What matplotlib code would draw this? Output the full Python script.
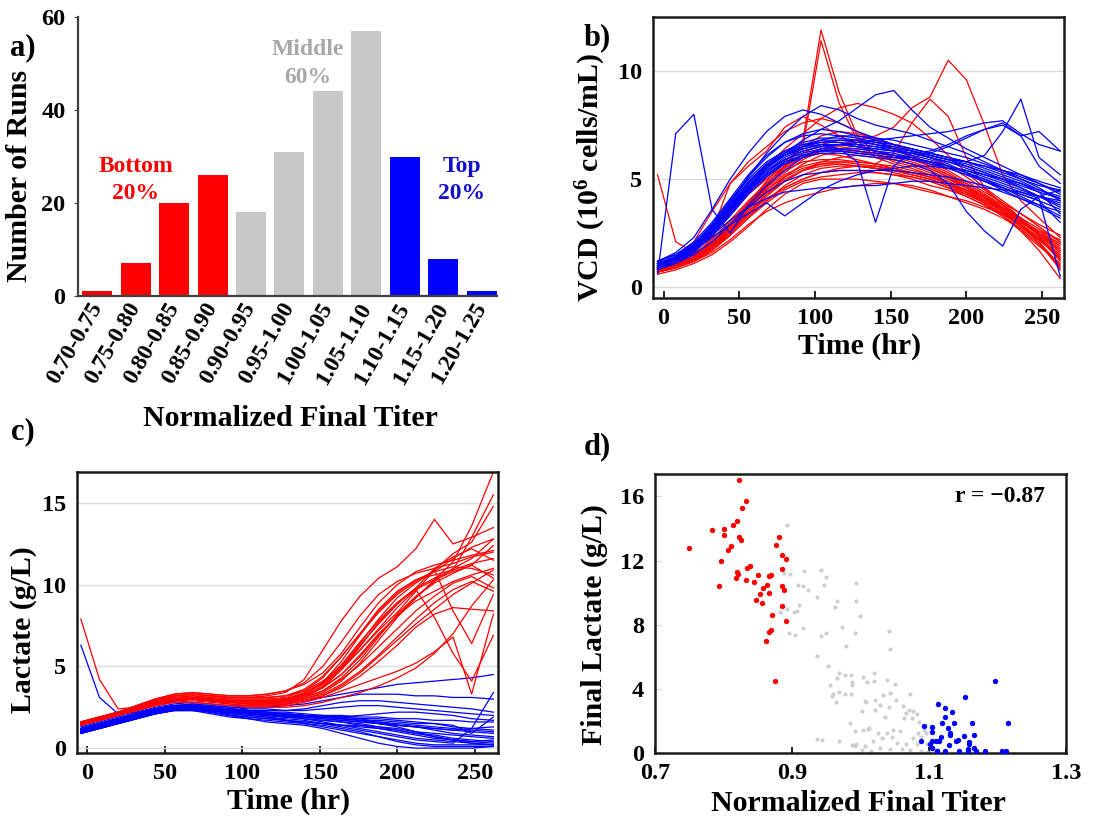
"""Four-panel titer summary: histogram, VCD and lactate profiles, final lactate vs titer."""
import matplotlib
matplotlib.use("Agg")
import matplotlib.pyplot as plt

RED, BLUE, GREY = "#ff0000", "#0000ff", "#c8c8c8"
W, H = 1096, 816

# --- a) histogram -------------------------------------------------------------
BINS = ["0.70-0.75", "0.75-0.80", "0.80-0.85", "0.85-0.90", "0.90-0.95", "0.95-1.00",
        "1.00-1.05", "1.05-1.10", "1.10-1.15", "1.15-1.20", "1.20-1.25"]
COUNTS = [1, 7, 20, 26, 18, 31, 44, 57, 30, 8, 1]
GROUP = ["bottom"] * 4 + ["middle"] * 4 + ["top"] * 3

# --- b) / c) time courses (hr) -----------------------------------------------
TIME = [-4, 8, 20, 32, 44, 56, 68, 80, 92, 104, 116, 128, 140, 152, 164, 176, 188,
        200, 212, 224, 236, 248, 262]

VCD_BOTTOM = [
    [0.8, 1.0, 1.3, 1.8, 2.6, 3.4, 4.1, 4.6, 5.0, 5.3, 5.4, 5.4, 5.3, 5.2, 5.1, 4.9, 4.6, 4.3, 3.9, 3.4, 2.8, 2.2, 1.4],
    [0.9, 1.1, 1.5, 2.2, 3.1, 4.0, 4.8, 5.5, 6.0, 6.3, 6.4, 6.3, 6.1, 5.9, 5.7, 5.4, 5.0, 4.6, 4.1, 3.6, 3.0, 2.4, 1.6],
    [0.7, 0.9, 1.2, 1.6, 2.2, 2.9, 3.5, 3.9, 4.2, 4.4, 4.6, 4.7, 4.8, 4.8, 4.7, 4.5, 4.2, 3.9, 3.6, 3.2, 2.7, 2.0, 1.0],
    [0.8, 1.0, 1.4, 2.0, 2.9, 3.8, 4.6, 5.5, 6.8, 11.9, 9.0, 7.0, 6.2, 5.8, 5.6, 5.3, 5.0, 4.6, 4.2, 3.7, 3.1, 2.5, 1.8],
    [0.9, 1.1, 1.5, 2.1, 3.0, 3.9, 4.8, 5.6, 6.5, 11.4, 8.5, 6.8, 6.0, 5.7, 5.5, 5.2, 4.8, 4.4, 3.9, 3.4, 2.9, 2.3, 1.5],
    [5.2, 2.1, 1.6, 2.0, 2.7, 3.6, 4.4, 5.0, 5.4, 5.6, 5.7, 5.6, 5.5, 5.3, 5.1, 4.9, 4.6, 4.2, 3.8, 3.3, 2.7, 2.0, 0.9],
    [0.8, 1.0, 1.3, 1.9, 2.8, 3.7, 4.6, 5.3, 5.9, 6.3, 6.6, 6.8, 7.0, 7.4, 8.3, 8.8, 10.5, 9.6, 7.5, 5.2, 4.0, 3.2, 2.3],
    [0.9, 1.3, 2.1, 3.5, 4.8, 5.8, 6.5, 7.2, 7.6, 7.8, 7.6, 7.2, 6.8, 6.4, 6.0, 5.6, 5.2, 4.8, 4.3, 3.8, 3.2, 2.5, 1.7],
    [0.7, 1.0, 1.4, 2.3, 3.5, 4.6, 5.6, 6.4, 7.1, 7.8, 8.3, 8.5, 8.3, 8.0, 7.6, 6.9, 6.1, 5.3, 4.6, 4.0, 3.4, 2.8, 2.1],
    [0.8, 1.0, 1.3, 1.7, 2.4, 3.2, 3.9, 4.5, 4.9, 5.1, 5.2, 5.3, 5.3, 5.2, 5.0, 4.7, 4.5, 4.2, 3.8, 3.3, 2.6, 1.7, 0.4],
    [0.9, 1.1, 1.4, 1.9, 2.7, 3.5, 4.3, 4.9, 5.4, 5.8, 6.0, 6.1, 6.0, 5.9, 5.7, 5.5, 5.1, 4.7, 4.2, 3.6, 3.0, 2.5, 2.0],
    [0.7, 0.9, 1.2, 1.7, 2.5, 3.4, 4.3, 5.1, 5.7, 6.1, 6.3, 6.3, 6.2, 6.1, 6.0, 5.8, 5.4, 4.9, 4.4, 3.9, 3.4, 2.9, 2.4],
    [0.8, 1.1, 1.6, 2.6, 4.8, 5.6, 6.3, 7.4, 7.9, 7.5, 7.0, 6.6, 6.3, 6.0, 5.8, 5.5, 5.1, 4.6, 4.1, 3.5, 2.9, 2.3, 1.2],
    [0.6, 0.8, 1.1, 1.5, 2.1, 2.8, 3.6, 4.3, 4.8, 5.0, 5.0, 5.0, 4.9, 4.8, 4.6, 4.4, 4.2, 4.0, 3.7, 3.4, 3.0, 2.6, 2.2],
    [0.8, 1.0, 1.4, 2.0, 2.9, 3.9, 4.9, 5.8, 6.5, 7.0, 7.2, 7.1, 6.9, 6.6, 6.3, 6.0, 5.6, 5.1, 4.5, 3.9, 3.2, 2.4, 1.3],
    [0.9, 1.2, 1.6, 2.4, 3.4, 4.3, 5.0, 5.6, 6.0, 6.2, 6.1, 5.9, 5.7, 5.5, 5.3, 5.1, 4.8, 4.5, 4.1, 3.7, 3.2, 2.7, 2.1],
    [0.7, 0.9, 1.2, 1.8, 2.6, 3.6, 4.5, 5.2, 5.6, 5.8, 5.8, 5.7, 5.6, 5.4, 5.2, 5.0, 4.7, 4.3, 3.9, 3.4, 2.8, 2.1, 1.0],
    [0.8, 1.0, 1.3, 1.9, 2.8, 3.8, 4.7, 5.4, 5.8, 5.9, 5.9, 5.8, 5.7, 6.2, 7.6, 8.7, 7.9, 6.0, 4.6, 3.8, 3.1, 2.4, 1.7],
    [0.8, 1.0, 1.4, 2.0, 2.8, 3.7, 4.5, 5.1, 5.5, 5.7, 5.7, 5.6, 5.5, 5.4, 5.3, 5.1, 4.8, 4.4, 3.9, 3.3, 2.6, 1.9, 1.1],
    [0.9, 1.1, 1.4, 1.9, 2.6, 3.4, 4.2, 4.9, 5.4, 5.7, 5.8, 5.8, 5.7, 5.6, 5.4, 5.2, 4.9, 4.5, 4.0, 3.5, 2.9, 2.2, 1.5],
    [0.7, 0.9, 1.3, 1.9, 2.8, 3.8, 4.8, 5.6, 6.2, 6.6, 6.8, 6.8, 6.6, 6.4, 6.1, 5.7, 5.3, 4.8, 4.3, 3.7, 3.1, 2.5, 1.9],
    [0.8, 1.0, 1.3, 1.8, 2.5, 3.3, 4.0, 4.6, 5.0, 5.3, 5.5, 5.6, 5.6, 5.5, 5.3, 5.1, 4.8, 4.4, 4.0, 3.5, 2.9, 2.2, 1.3],
    [0.9, 1.2, 1.7, 2.5, 3.4, 4.3, 5.1, 5.7, 6.1, 6.4, 6.5, 6.4, 6.3, 6.1, 5.9, 5.6, 5.2, 4.7, 4.2, 3.6, 2.9, 2.1, 0.8],
    [0.7, 0.9, 1.2, 1.7, 2.4, 3.2, 4.0, 4.7, 5.2, 5.5, 5.6, 5.6, 5.5, 5.4, 5.2, 5.0, 4.7, 4.4, 4.0, 3.6, 3.1, 2.6, 2.0],
]

VCD_TOP = [
    [1.0, 1.3, 1.8, 2.6, 3.6, 4.6, 5.4, 5.9, 6.3, 6.5, 6.6, 6.5, 6.4, 6.3, 6.2, 6.0, 5.8, 5.5, 5.2, 4.9, 4.6, 4.2, 3.7],
    [0.6, 7.1, 8.0, 3.6, 2.5, 3.8, 4.7, 5.4, 6.0, 6.4, 6.6, 6.5, 6.3, 6.1, 5.9, 5.7, 5.5, 5.2, 4.9, 4.6, 4.3, 4.0, 3.6],
    [1.1, 1.4, 1.8, 2.4, 3.1, 3.7, 4.1, 4.4, 4.5, 4.6, 4.6, 4.7, 4.7, 4.8, 4.9, 4.9, 4.8, 4.7, 4.6, 4.5, 4.4, 4.2, 4.0],
    [1.0, 1.3, 1.8, 2.7, 3.9, 5.1, 6.2, 7.1, 7.9, 8.4, 8.2, 7.8, 7.5, 7.3, 7.1, 6.8, 6.5, 6.2, 5.8, 5.4, 5.0, 4.6, 4.0],
    [1.2, 1.5, 2.0, 2.8, 3.8, 4.8, 5.6, 6.2, 6.5, 6.6, 6.4, 5.8, 3.0, 5.6, 6.2, 6.0, 5.7, 5.3, 4.9, 4.5, 4.1, 3.7, 3.2],
    [0.9, 1.2, 1.7, 2.5, 3.5, 4.5, 5.3, 5.9, 6.3, 6.5, 6.6, 6.7, 6.8, 6.9, 7.0, 7.1, 7.2, 7.4, 7.6, 7.7, 7.1, 6.6, 6.3],
    [1.0, 1.3, 1.9, 2.8, 3.9, 4.9, 5.7, 6.2, 6.6, 6.8, 6.8, 6.7, 6.6, 6.5, 6.3, 6.1, 5.9, 5.8, 6.1, 7.2, 8.7, 6.0, 5.2],
    [1.1, 1.4, 1.9, 2.6, 3.5, 4.4, 5.2, 5.7, 6.0, 6.2, 6.2, 6.1, 6.0, 5.9, 5.7, 5.4, 4.8, 3.5, 2.6, 1.9, 3.6, 4.2, 4.5],
    [1.2, 1.6, 2.3, 3.6, 5.0, 6.2, 7.2, 7.9, 8.2, 8.0, 7.6, 7.2, 6.9, 6.6, 6.4, 6.2, 6.0, 5.8, 5.5, 5.2, 4.9, 4.5, 4.1],
    [1.0, 1.3, 1.7, 2.3, 2.9, 3.4, 3.9, 3.3, 3.9, 4.5, 4.9, 5.2, 5.4, 5.5, 5.6, 5.6, 5.5, 5.4, 5.2, 5.0, 4.8, 4.5, 4.2],
    [0.9, 1.2, 1.7, 2.5, 3.5, 4.5, 5.3, 5.9, 6.2, 6.4, 6.4, 6.3, 6.2, 6.1, 6.0, 5.8, 5.6, 5.3, 5.0, 4.7, 4.4, 4.1, 0.5],
    [1.1, 1.4, 1.9, 2.7, 3.7, 4.7, 5.5, 6.1, 6.5, 6.8, 7.0, 7.0, 6.9, 6.8, 6.6, 6.4, 6.2, 6.0, 5.7, 5.4, 5.1, 4.8, 4.4],
    [1.0, 1.3, 1.8, 2.6, 3.6, 4.6, 5.5, 6.2, 6.8, 7.3, 7.7, 8.3, 8.9, 9.1, 8.2, 7.4, 6.9, 6.4, 6.0, 5.6, 5.2, 4.8, 4.3],
    [0.8, 1.1, 1.6, 2.4, 3.4, 4.4, 5.2, 5.8, 6.1, 6.3, 6.3, 6.2, 6.1, 6.0, 6.0, 6.2, 6.5, 6.9, 7.3, 7.6, 7.0, 7.2, 6.3],
    [1.2, 1.5, 2.0, 2.9, 4.0, 5.0, 5.8, 6.3, 6.6, 6.7, 6.7, 6.6, 6.5, 6.3, 6.1, 5.9, 5.6, 5.3, 5.0, 4.6, 4.2, 3.8, 3.3],
    [0.9, 1.1, 1.5, 2.1, 2.9, 3.7, 4.4, 4.9, 5.2, 5.3, 5.4, 5.4, 5.4, 5.4, 5.3, 5.2, 5.1, 4.9, 4.7, 4.4, 4.1, 3.8, 3.5],
    [1.0, 1.4, 2.0, 2.9, 4.0, 5.1, 6.0, 6.7, 7.1, 7.3, 7.2, 7.0, 6.8, 6.6, 6.4, 6.2, 6.0, 5.8, 5.6, 5.3, 5.0, 4.7, 4.5],
    [1.1, 1.4, 1.9, 2.7, 3.7, 4.6, 5.4, 6.0, 6.4, 6.6, 6.6, 6.5, 6.4, 6.3, 6.2, 6.3, 6.6, 7.0, 7.3, 7.5, 7.0, 5.6, 4.8],
    [1.0, 1.3, 1.8, 2.6, 3.7, 4.8, 5.7, 6.3, 6.7, 6.9, 6.9, 6.8, 6.6, 6.4, 6.2, 6.0, 5.8, 5.6, 5.3, 5.0, 4.7, 4.4, 4.1],
    [1.1, 1.4, 1.9, 2.8, 3.8, 4.8, 5.6, 6.1, 6.4, 6.6, 6.6, 6.6, 6.5, 6.4, 6.3, 6.1, 5.9, 5.6, 5.3, 5.0, 4.6, 4.2, 3.8],
    [0.9, 1.2, 1.6, 2.4, 3.3, 4.3, 5.1, 5.7, 6.1, 6.3, 6.3, 6.2, 6.1, 6.0, 5.9, 5.8, 5.6, 5.4, 5.1, 4.8, 4.5, 4.2, 3.9],
    [1.2, 1.5, 2.1, 3.0, 4.1, 5.2, 6.1, 6.7, 7.0, 7.1, 7.0, 6.9, 6.7, 6.5, 6.3, 6.1, 5.9, 5.7, 5.4, 5.1, 4.8, 4.4, 3.4],
    [1.0, 1.3, 1.8, 2.6, 3.6, 4.6, 5.5, 6.1, 6.5, 6.7, 6.8, 6.8, 6.7, 6.6, 6.4, 6.2, 6.0, 5.8, 5.6, 5.4, 5.2, 4.9, 4.6],
    [1.1, 1.4, 1.9, 2.7, 3.6, 4.5, 5.2, 5.8, 6.1, 6.3, 6.4, 6.4, 6.3, 6.2, 6.0, 5.8, 5.5, 5.2, 4.9, 4.6, 4.3, 4.0, 3.0],
]

LAC_TOP = [
    [1.1, 1.4, 1.7, 2.0, 2.3, 2.5, 2.5, 2.4, 2.3, 2.2, 2.1, 2.0, 1.9, 1.8, 1.7, 1.6, 1.5, 1.4, 1.3, 1.2, 1.1, 1.0, 0.9],
    [6.3, 3.1, 2.1, 2.2, 2.4, 2.6, 2.6, 2.5, 2.4, 2.3, 2.2, 2.1, 2.0, 1.9, 1.8, 1.7, 1.6, 1.5, 1.4, 1.3, 1.2, 1.1, 1.0],
    [1.3, 1.6, 1.9, 2.2, 2.5, 2.7, 2.8, 2.7, 2.6, 2.6, 2.6, 2.7, 2.9, 3.1, 3.3, 3.5, 3.7, 3.9, 4.0, 4.1, 4.2, 4.3, 4.5],
    [0.9, 1.2, 1.5, 1.8, 2.1, 2.3, 2.3, 2.2, 2.0, 1.8, 1.6, 1.5, 1.4, 1.2, 0.9, 0.6, 0.3, 0.1, 0.0, 0.0, 0.0, 0.0, 0.1],
    [1.0, 1.3, 1.6, 1.9, 2.2, 2.4, 2.4, 2.3, 2.2, 2.1, 2.0, 2.0, 1.9, 1.9, 1.8, 1.7, 1.5, 1.3, 1.0, 0.7, 0.5, 0.3, 0.2],
    [1.2, 1.5, 1.8, 2.1, 2.4, 2.6, 2.7, 2.6, 2.5, 2.5, 2.5, 2.6, 2.7, 2.9, 3.1, 3.3, 3.3, 3.3, 3.2, 3.2, 3.1, 3.1, 3.0],
    [1.0, 1.3, 1.6, 1.9, 2.2, 2.4, 2.4, 2.3, 2.1, 2.0, 1.9, 1.8, 1.7, 1.5, 1.3, 1.1, 0.9, 0.7, 0.5, 0.4, 0.3, 1.2, 3.4],
    [1.1, 1.4, 1.7, 2.0, 2.3, 2.5, 2.5, 2.4, 2.3, 2.2, 2.1, 2.1, 2.0, 2.0, 2.0, 1.9, 1.9, 1.8, 1.8, 1.7, 1.7, 1.6, 1.6],
    [0.9, 1.2, 1.5, 1.8, 2.1, 2.3, 2.3, 2.2, 2.0, 1.9, 1.8, 1.7, 1.6, 1.5, 1.4, 1.3, 1.2, 1.1, 0.9, 0.8, 0.6, 0.5, 0.4],
    [1.2, 1.5, 1.8, 2.1, 2.4, 2.6, 2.7, 2.6, 2.5, 2.4, 2.4, 2.3, 2.3, 2.4, 2.5, 2.6, 2.6, 2.5, 2.4, 2.3, 2.2, 2.1, 2.0],
    [1.0, 1.3, 1.6, 1.9, 2.2, 2.4, 2.5, 2.4, 2.3, 2.2, 2.1, 2.0, 1.8, 1.6, 1.4, 1.2, 1.0, 0.8, 0.6, 0.5, 0.4, 0.3, 0.2],
    [1.1, 1.4, 1.7, 2.0, 2.3, 2.5, 2.6, 2.5, 2.4, 2.3, 2.2, 2.2, 2.1, 2.0, 1.9, 1.8, 1.6, 1.4, 1.3, 1.2, 1.1, 1.2, 1.3],
    [1.0, 1.3, 1.6, 1.9, 2.2, 2.4, 2.4, 2.3, 2.1, 2.0, 1.9, 1.7, 1.6, 1.5, 1.4, 1.4, 1.3, 1.2, 1.0, 0.9, 0.8, 0.7, 0.6],
    [1.2, 1.5, 1.8, 2.1, 2.4, 2.6, 2.6, 2.5, 2.4, 2.3, 2.3, 2.3, 2.4, 2.6, 2.8, 2.9, 2.9, 2.8, 2.7, 2.6, 2.5, 2.4, 2.2],
    [0.9, 1.2, 1.5, 1.8, 2.1, 2.3, 2.3, 2.1, 1.9, 1.8, 1.7, 1.6, 1.5, 1.4, 1.2, 1.0, 0.7, 0.4, 0.2, 0.1, 0.1, 0.1, 0.1],
    [1.1, 1.4, 1.7, 2.0, 2.3, 2.5, 2.5, 2.4, 2.3, 2.2, 2.1, 2.1, 2.0, 1.9, 1.8, 1.7, 1.7, 1.6, 1.5, 1.5, 1.4, 0.9, 1.9],
    [1.0, 1.3, 1.6, 1.9, 2.2, 2.4, 2.4, 2.3, 2.2, 2.1, 2.0, 1.9, 1.8, 1.7, 1.6, 1.5, 1.3, 1.1, 0.9, 0.7, 0.5, 0.4, 0.5],
    [1.2, 1.5, 1.8, 2.1, 2.4, 2.6, 2.6, 2.5, 2.4, 2.3, 2.2, 2.1, 2.0, 1.9, 1.9, 1.8, 1.8, 1.7, 1.6, 1.5, 1.3, 1.2, 1.1],
    [1.1, 1.4, 1.7, 2.0, 2.3, 2.5, 2.5, 2.4, 2.2, 2.1, 2.0, 1.9, 1.8, 1.7, 1.6, 1.4, 1.2, 1.0, 0.8, 0.6, 0.5, 0.4, 0.3],
    [0.9, 1.2, 1.5, 1.8, 2.1, 2.3, 2.4, 2.3, 2.2, 2.1, 2.0, 1.9, 1.9, 1.8, 1.7, 1.6, 1.5, 1.4, 1.3, 1.1, 0.9, 0.8, 0.7],
    [1.1, 1.4, 1.7, 2.0, 2.3, 2.5, 2.6, 2.5, 2.3, 2.2, 2.1, 2.0, 2.0, 1.9, 1.9, 2.0, 2.1, 2.2, 2.2, 2.1, 2.0, 1.8, 1.7],
    [1.0, 1.3, 1.6, 1.9, 2.2, 2.4, 2.4, 2.2, 2.0, 1.9, 1.8, 1.7, 1.5, 1.3, 1.1, 0.9, 0.7, 0.5, 0.3, 0.2, 0.2, 0.2, 0.2],
]

LAC_BOTTOM = [
    [1.5, 1.8, 2.1, 2.4, 2.7, 2.9, 3.0, 2.9, 2.8, 2.8, 2.8, 2.8, 3.1, 3.7, 4.8, 6.2, 7.7, 8.9, 9.8, 10.4, 10.9, 11.3, 11.6],
    [7.9, 4.2, 2.4, 2.5, 2.8, 3.0, 3.1, 3.0, 2.9, 2.9, 2.9, 3.0, 3.3, 4.0, 5.3, 6.9, 8.4, 9.5, 10.3, 10.8, 11.1, 11.0, 10.6],
    [1.6, 1.9, 2.2, 2.6, 2.9, 3.2, 3.3, 3.2, 3.1, 3.1, 3.2, 3.4, 4.2, 6.0, 7.8, 9.3, 10.4, 11.1, 12.2, 14.0, 12.5, 12.9, 13.5],
    [1.4, 1.7, 2.0, 2.4, 2.7, 2.9, 3.0, 2.9, 2.8, 2.7, 2.7, 2.8, 3.0, 3.4, 4.1, 5.2, 6.6, 8.0, 9.2, 10.3, 11.4, 13.6, 16.9],
    [1.5, 1.8, 2.1, 2.5, 2.8, 3.0, 3.0, 2.9, 2.8, 2.8, 2.8, 2.9, 3.2, 3.8, 4.8, 6.0, 7.3, 8.6, 9.7, 8.0, 5.8, 4.1, 6.9],
    [1.4, 1.7, 2.0, 2.3, 2.6, 2.8, 2.9, 2.8, 2.7, 2.6, 2.6, 2.6, 2.8, 3.1, 3.5, 3.9, 4.3, 4.7, 5.2, 5.9, 6.8, 3.3, 8.2],
    [1.6, 1.9, 2.2, 2.5, 2.8, 3.1, 3.2, 3.1, 3.0, 3.0, 3.0, 3.1, 3.5, 4.3, 5.6, 7.0, 8.3, 9.4, 10.2, 10.8, 11.6, 12.3, 12.8],
    [1.5, 1.8, 2.1, 2.4, 2.8, 3.0, 3.1, 3.0, 2.9, 2.8, 2.8, 2.9, 3.1, 3.5, 4.2, 5.1, 6.2, 7.3, 8.4, 9.3, 10.1, 10.5, 9.8],
    [1.5, 1.8, 2.2, 2.6, 3.0, 3.3, 3.4, 3.3, 3.2, 3.2, 3.3, 3.5, 3.9, 4.6, 5.8, 7.4, 8.9, 10.0, 10.8, 11.2, 11.5, 11.8, 12.1],
    [1.4, 1.7, 2.0, 2.3, 2.6, 2.8, 2.8, 2.7, 2.6, 2.5, 2.5, 2.5, 2.6, 2.8, 3.1, 3.4, 3.8, 4.3, 4.9, 5.8, 7.0, 8.7, 10.3],
    [1.6, 1.9, 2.2, 2.5, 2.9, 3.1, 3.2, 3.1, 3.0, 3.0, 3.0, 3.0, 3.2, 3.7, 4.5, 5.7, 7.0, 8.1, 9.0, 9.6, 10.2, 10.6, 11.0],
    [1.5, 1.8, 2.1, 2.4, 2.7, 2.9, 3.0, 2.9, 2.8, 2.8, 2.9, 3.0, 3.4, 4.0, 4.9, 6.0, 7.2, 8.3, 9.6, 10.9, 8.4, 6.4, 9.4],
    [1.5, 1.8, 2.1, 2.5, 2.9, 3.2, 3.3, 3.2, 3.1, 3.1, 3.1, 3.2, 3.5, 4.1, 5.0, 6.4, 7.9, 9.2, 10.1, 10.9, 11.9, 12.6, 14.8],
    [1.4, 1.7, 2.0, 2.4, 2.7, 2.9, 3.0, 2.9, 2.7, 2.6, 2.6, 2.7, 2.9, 3.2, 3.7, 4.4, 5.3, 6.3, 7.4, 8.2, 8.6, 8.5, 8.4],
    [1.5, 1.8, 2.1, 2.5, 2.8, 3.0, 3.1, 3.0, 2.9, 2.9, 2.9, 3.0, 3.3, 3.9, 4.9, 6.3, 7.6, 8.8, 9.8, 11.0, 11.7, 12.2, 11.5],
    [1.6, 1.9, 2.2, 2.6, 3.0, 3.2, 3.3, 3.2, 3.1, 3.1, 3.1, 3.2, 3.6, 4.4, 5.6, 7.0, 8.5, 9.6, 10.3, 10.6, 10.9, 12.9, 15.5],
    [1.5, 1.8, 2.1, 2.5, 2.8, 3.0, 3.1, 3.0, 2.9, 2.9, 2.9, 3.0, 3.3, 4.0, 5.1, 6.5, 7.8, 8.9, 9.7, 10.3, 10.8, 11.2, 10.4],
    [1.4, 1.7, 2.0, 2.4, 2.7, 2.9, 3.0, 2.9, 2.8, 2.8, 2.8, 2.9, 3.1, 3.5, 4.3, 5.4, 6.8, 8.2, 9.3, 10.1, 10.7, 11.2, 12.4],
    [1.6, 1.9, 2.2, 2.6, 3.0, 3.3, 3.4, 3.3, 3.2, 3.2, 3.3, 3.5, 4.0, 5.0, 6.5, 8.1, 9.4, 10.2, 10.7, 11.0, 11.3, 11.7, 12.0],
    [1.5, 1.8, 2.1, 2.4, 2.7, 2.9, 3.0, 2.9, 2.8, 2.7, 2.7, 2.8, 3.0, 3.3, 3.9, 4.7, 5.7, 6.8, 7.9, 8.9, 9.7, 10.2, 9.6],
    [1.5, 1.8, 2.1, 2.5, 2.8, 3.0, 3.1, 3.0, 2.9, 2.9, 2.9, 3.0, 3.2, 3.7, 4.5, 5.6, 6.9, 8.1, 9.2, 10.2, 11.0, 11.6, 12.8],
    [1.4, 1.7, 2.0, 2.3, 2.6, 2.9, 3.0, 2.9, 2.8, 2.7, 2.7, 2.7, 2.9, 3.2, 3.8, 4.6, 5.6, 6.6, 7.6, 8.5, 9.4, 10.1, 10.9],
]

# --- d) final lactate vs normalized titer ------------------------------------
BOTTOM_TITER = [0.823, 0.833, 0.827, 0.820, 0.814, 0.783, 0.801, 0.801, 0.822, 0.825, 0.881, 0.876,
                0.811, 0.806, 0.750, 0.796, 0.886, 0.891, 0.885, 0.838, 0.834, 0.819, 0.821, 0.818,
                0.850, 0.866, 0.869, 0.833, 0.845, 0.793, 0.864, 0.885, 0.888, 0.858, 0.854, 0.866,
                0.848, 0.856, 0.885, 0.891, 0.871, 0.869, 0.867, 0.862, 0.875]
BOTTOM_LACTATE = [17.0, 15.7, 15.27, 14.44, 14.25, 13.9, 13.94, 13.6, 13.46, 13.31, 13.5, 12.98,
                  12.9, 12.69, 12.77, 11.96, 12.33, 12.1, 11.46, 11.65, 11.52, 11.31, 11.17, 10.92,
                  11.1, 11.06, 11.12, 10.79, 10.69, 10.42, 10.46, 10.42, 10.17, 10.29, 9.92, 10.0,
                  9.56, 9.35, 9.19, 8.21, 8.63, 7.69, 7.56, 6.98, 4.52]

MIDDLE_TITER = [0.897, 0.917, 0.942, 0.950, 0.946, 0.909, 0.916, 0.924, 0.937, 0.993, 0.993, 0.965,
                0.963, 0.910, 0.907, 0.903, 0.892, 0.999, 0.916, 0.905, 0.943, 0.950, 0.973, 0.992,
                0.979, 0.937, 0.952, 0.969, 0.978, 0.986, 0.965, 1.003, 0.988, 1.009, 0.955, 0.988,
                0.969, 0.960, 0.977, 0.986, 0.959, 0.964, 1.008, 1.002, 1.003, 0.944, 0.969, 0.988,
                0.993, 1.011, 0.892, 0.888, 0.882, 0.896, 1.042, 1.043, 1.020, 1.020, 1.038, 1.050,
                1.033, 1.043, 1.072, 1.007, 1.021, 1.052, 1.062, 1.028, 1.041, 1.021, 1.071, 1.077,
                1.067, 1.082, 1.064, 1.036, 1.075, 1.086, 1.013, 1.048, 1.092, 1.026, 1.038, 1.058,
                1.084, 1.096, 1.031, 1.046, 1.077, 1.089, 1.018, 1.053, 1.066, 1.082, 1.097, 1.007,
                1.028, 1.043, 1.060, 1.072, 1.089, 1.015, 1.002, 1.097, 0.936, 0.992, 0.992, 0.985]
MIDDLE_LACTATE = [11.17, 11.38, 11.4, 10.96, 10.5, 10.48, 10.44, 10.19, 9.73, 10.6, 9.5, 9.46,
                  9.12, 9.21, 8.88, 8.77, 8.98, 8.56, 7.79, 7.36, 7.27, 7.5, 7.88, 7.5,
                  6.67, 6.08, 5.42, 5.02, 4.88, 4.88, 4.69, 4.71, 4.44, 4.4, 4.25, 4.25,
                  3.83, 3.71, 3.67, 3.71, 3.56, 3.15, 3.21, 2.63, 1.42, 0.83, 0.75, 0.48,
                  0.54, 1.48, 14.19, 11.2, 8.77, 7.48, 7.58, 6.48, 4.96, 4.5, 4.54, 4.33,
                  3.6, 3.77, 3.71, 3.25, 3.29, 3.29, 2.94, 3.0, 2.88, 2.69, 2.69, 2.63,
                  2.52, 2.42, 2.21, 2.25, 2.17, 1.96, 1.54, 1.42, 1.42, 1.27, 1.27, 1.38,
                  1.27, 1.27, 0.96, 1.0, 0.96, 1.0, 0.75, 0.65, 0.58, 0.54, 0.58, 0.44,
                  0.33, 0.23, 0.23, 0.17, 0.12, 0.12, 0.2, 0.05, 0.85, 0.44, 1.38, 1.9]

TOP_TITER = [1.196, 1.152, 1.216, 1.113, 1.124, 1.134, 1.123, 1.119, 1.137, 1.163, 1.105, 1.128,
             1.130, 1.131, 1.105, 1.165, 1.151, 1.118, 1.142, 1.140, 1.110, 1.115, 1.105, 1.159,
             1.158, 1.129, 1.102, 1.165, 1.157, 1.169, 1.111, 1.123, 1.144, 1.157, 1.182, 1.206,
             1.212, 1.112, 1.104, 1.092, 1.088]
TOP_LACTATE = [4.5, 3.48, 1.9, 3.04, 2.81, 2.58, 2.25, 1.9, 1.9, 1.9, 1.65, 1.58,
               1.27, 1.15, 1.31, 1.1, 1.04, 1.02, 0.81, 0.73, 0.75, 0.75, 0.75, 0.71,
               0.58, 0.52, 0.58, 0.33, 0.23, 0.12, 0.12, 0.1, 0.1, 0.1, 0.1, 0.1,
               0.1, 0.1, 0.33, 1.69, 0.75]
R_TEXT = "r = \u22120.87"

TICK = 17.5
LABEL = 21.5


def place(fig, left, top, right, bottom):
    """Axes from pixel box (origin top-left)."""
    return fig.add_axes([left / W, 1 - bottom / H, (right - left) / W, (bottom - top) / H])


def frame(ax, color="#1a1a1a", lw=1.8):
    for s in ax.spines.values():
        s.set_color(color)
        s.set_linewidth(lw)


def panel_hist(fig):
    ax = place(fig, 78, 17, 497, 296)
    colors = {"bottom": RED, "middle": GREY, "top": BLUE}
    x = list(range(len(BINS)))
    ax.bar(x, COUNTS, width=0.78, color=[colors[g] for g in GROUP])
    ax.set_xlim(-0.5, 10.4)
    ax.set_ylim(0, 60)
    ax.set_yticks([0, 20, 40, 60])
    ax.set_xticks(x)
    ax.set_xticklabels(BINS, rotation=60, ha="right", va="center", rotation_mode="anchor",
                       fontsize=17)
    ax.tick_params(axis="x", length=0, pad=6)
    ax.tick_params(axis="y", length=3, pad=6, labelsize=TICK, color="#404040")
    for s in ("top", "right"):
        ax.spines[s].set_visible(False)
    for s in ("left", "bottom"):
        ax.spines[s].set_color("#404040")
        ax.spines[s].set_linewidth(1.6)
    ax.set_ylabel("Number of Runs", fontsize=LABEL)
    ax.yaxis.set_label_coords(-0.107, 0.43)
    ax.set_xlabel("Normalized Final Titer", fontsize=LABEL)
    ax.xaxis.set_label_coords(0.506, -0.39)
    kw = dict(ha="center", va="center", fontsize=17, linespacing=1.4)
    ax.text(1.0, 25, "Bottom\n20%", color=RED, **kw)
    ax.text(5.48, 50, "Middle\n60%", color="#a8a8a8", **kw)
    ax.text(9.48, 25, "Top\n20%", color="#1010cc", **kw)


def lines_axes(ax):
    frame(ax)
    ax.grid(axis="y", color="#dcdcdc", lw=1.0)
    ax.set_axisbelow(True)
    ax.tick_params(axis="x", direction="in", length=5, width=1.2, pad=7, labelsize=TICK)
    ax.tick_params(axis="y", length=0, pad=8, labelsize=TICK)
    ax.set_xticks([0, 50, 100, 150, 200, 250])
    ax.set_xlabel("Time (hr)", fontsize=LABEL)
    ax.xaxis.set_label_coords(0.502, -0.122)


def panel_vcd(fig):
    ax = place(fig, 653, 17, 1064, 298)
    for curve in VCD_BOTTOM:
        ax.plot(TIME, curve, color=RED, lw=0.9)
    for curve in VCD_TOP:
        ax.plot(TIME, curve, color=BLUE, lw=0.9)
    ax.set_xlim(-7, 264.5)
    ax.set_ylim(-0.5, 12.5)
    ax.set_yticks([0, 5, 10])
    lines_axes(ax)
    ax.set_ylabel("VCD (10$^{6}$ cells/mL)", fontsize=LABEL)
    ax.yaxis.set_label_coords(-0.109, 0.43)


def panel_lactate(fig):
    ax = place(fig, 77, 472, 498, 753)
    for curve in LAC_TOP:
        ax.plot(TIME, curve, color=BLUE, lw=0.9)
    for curve in LAC_BOTTOM:
        ax.plot(TIME, curve, color=RED, lw=0.9)
    ax.set_xlim(-6.5, 265)
    ax.set_ylim(-0.3, 16.9)
    ax.set_yticks([0, 5, 10, 15])
    lines_axes(ax)
    ax.set_ylabel("Lactate (g/L)", fontsize=LABEL)
    ax.yaxis.set_label_coords(-0.095, 0.44)


def panel_scatter(fig):
    ax = place(fig, 655, 474, 1066, 753)
    ax.scatter(MIDDLE_TITER, MIDDLE_LACTATE, s=9, color="#cfcfcf", lw=0, zorder=2)
    ax.scatter(BOTTOM_TITER, BOTTOM_LACTATE, s=15, color=RED, lw=0, zorder=3)
    ax.scatter(TOP_TITER, TOP_LACTATE, s=15, color=BLUE, lw=0, zorder=3)
    ax.set_xlim(0.7, 1.3)
    ax.set_ylim(0, 17.4)
    ax.set_xticks([0.7, 0.9, 1.1, 1.3])
    ax.set_yticks([0, 4, 8, 12, 16])
    frame(ax)
    ax.tick_params(axis="x", direction="in", length=4, width=1.2, pad=7, labelsize=TICK)
    ax.tick_params(axis="y", direction="in", length=4, color="#d0d0d0", pad=8, labelsize=TICK)
    ax.text(0.95, 0.92, R_TEXT, transform=ax.transAxes, ha="right", va="center", fontsize=17)
    ax.set_ylabel("Final Lactate (g/L)", fontsize=LABEL)
    ax.yaxis.set_label_coords(-0.114, 0.46)
    ax.set_xlabel("Normalized Final Titer", fontsize=LABEL)
    ax.xaxis.set_label_coords(0.494, -0.133)


def main():
    plt.rcParams["font.family"] = ["Liberation Serif", "DejaVu Serif"]
    plt.rcParams["font.weight"] = "bold"
    plt.rcParams["axes.labelweight"] = "bold"
    plt.rcParams["mathtext.fontset"] = "custom"
    plt.rcParams["mathtext.rm"] = "Liberation Serif:bold"
    plt.rcParams["mathtext.it"] = "Liberation Serif:bold"
    plt.rcParams["mathtext.bf"] = "Liberation Serif:bold"

    fig = plt.figure(figsize=(W / 100, H / 100), dpi=100)
    panel_hist(fig)
    panel_vcd(fig)
    panel_lactate(fig)
    panel_scatter(fig)
    for label, (px, py) in {"a)": (23, 48), "b)": (597, 38), "c)": (23, 432), "d)": (597, 447)}.items():
        fig.text(px / W, 1 - py / H, label, ha="center", va="center", fontsize=22)
    fig.savefig("out.png", dpi=100)


if __name__ == "__main__":
    main()
